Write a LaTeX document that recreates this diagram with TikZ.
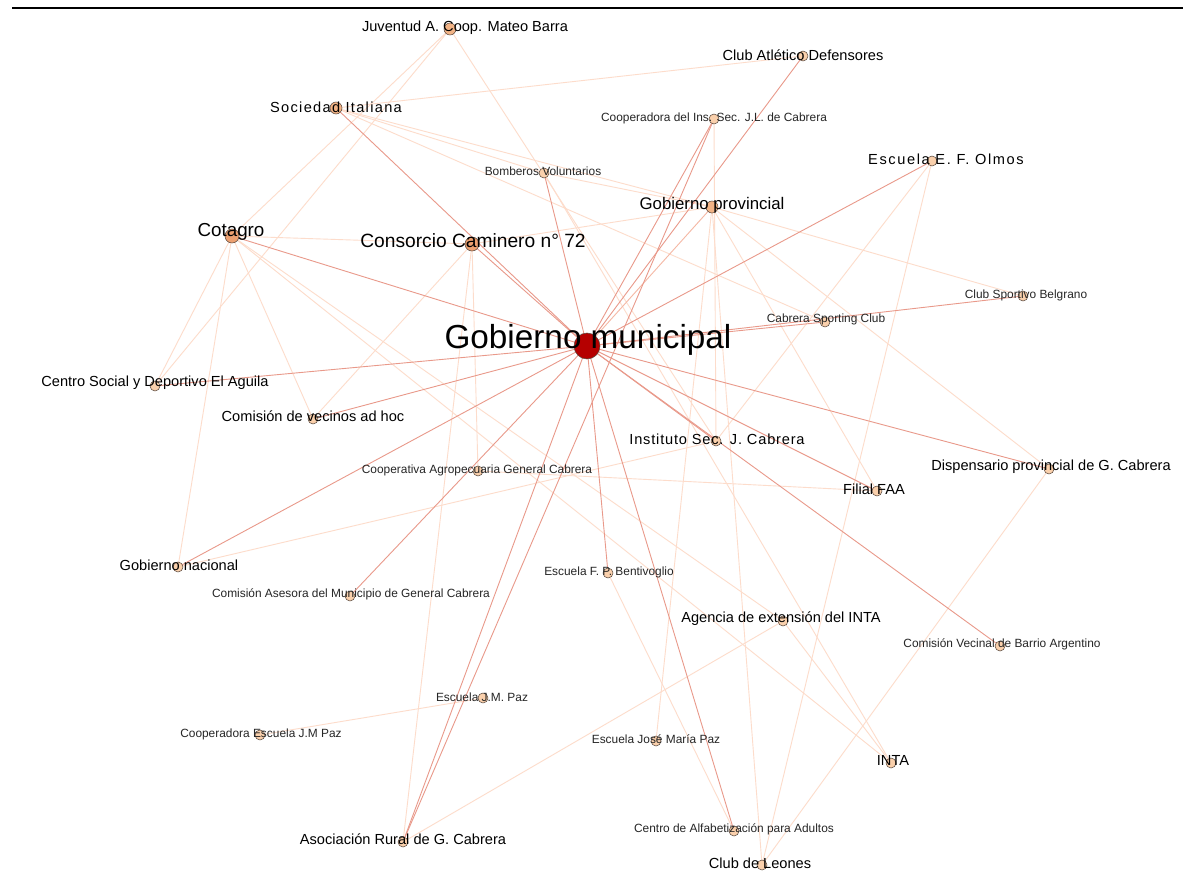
\documentclass[tikz,border=0pt]{standalone}
\usepackage{fontspec}
\setmainfont{Liberation Sans}
\definecolor{edark}{HTML}{E9998A}
\definecolor{emid}{HTML}{F5B8A4}
\definecolor{elight}{HTML}{FDDCCB}
\definecolor{nred}{HTML}{B50000}
\definecolor{norange}{HTML}{EDA070}
\definecolor{nmid}{HTML}{F2B385}
\definecolor{npeach}{HTML}{FAD0AC}
\definecolor{nborder}{HTML}{5A4A40}
\begin{document}
\begin{tikzpicture}[x=1pt,y=-1pt,
  vtx/.style={circle,draw=nborder,line width=0.55pt,fill=npeach,inner sep=0pt,minimum size=10pt},
  big/.style={vtx,fill=norange,minimum size=14pt},
  mid/.style={vtx,fill=nmid,minimum size=12pt},
  lbl/.style={inner sep=0pt,text=black,font=\fontsize{14.6}{15}\selectfont},
  sml/.style={inner sep=0pt,text=black!85,font=\fontsize{11.9}{12}\selectfont},
  dk/.style={draw=edark,line width=0.9pt},
  md/.style={draw=emid,line width=0.9pt},
  lt/.style={draw=elight,line width=0.9pt}]
\useasboundingbox (0,0) rectangle (1183,878);
\fill[white] (0,0) rectangle (1183,878);
\coordinate (L1) at (12,8);
\coordinate (L2) at (1183,8);
\draw[line width=1.5pt] (L1) -- (L2);
% positions
\coordinate (GM) at (587,346);
\coordinate (CC) at (472,244);
\coordinate (CT) at (232,236);
\coordinate (GP) at (712,207);
\coordinate (SI) at (336,108);
\coordinate (JU) at (450,29);
\coordinate (CA) at (803,56);
\coordinate (CI) at (714,119);
\coordinate (EO) at (932,161);
\coordinate (BV) at (544,173);
\coordinate (SB) at (1023,296);
\coordinate (CS) at (825,322);
\coordinate (CSD) at (155,386);
\coordinate (CV) at (313,419);
\coordinate (IS) at (716,441);
\coordinate (CO) at (478,471);
\coordinate (DP) at (1049,469);
\coordinate (FF) at (877,491);
\coordinate (GN) at (178,567);
\coordinate (EB) at (608,573);
\coordinate (CAM) at (350,596);
\coordinate (AG) at (783,621);
\coordinate (CVB) at (1000,646);
\coordinate (EJ) at (483,698);
\coordinate (CEJ) at (260,735);
\coordinate (EJMP) at (656,741);
\coordinate (INTA) at (891,763);
\coordinate (AR) at (403,842);
\coordinate (CAA) at (734,831);
\coordinate (LE) at (762,865);
% light edges
\draw[lt] (JU) -- (CT); \draw[lt] (JU) -- (CSD); \draw[lt] (JU) -- (IS);
\draw[lt] (SI) -- (CA); \draw[lt] (SI) -- (GP); \draw[lt] (SI) -- (CS); \draw[lt] (SI) -- (BV);
\draw[lt] (CT) -- (CC); \draw[lt] (CT) -- (CSD); \draw[lt] (CT) -- (GN); \draw[lt] (CT) -- (CV);
\draw[lt] (CT) -- (INTA); \draw[lt] (CT) -- (AG);
\draw[lt] (CC) -- (GP); \draw[lt] (CC) -- (CV); \draw[lt] (CC) -- (CO); \draw[lt] (CC) -- (AR);
\draw[lt] (BV) -- (GP); \draw[lt] (BV) -- (INTA);
\draw[lt] (GP) -- (SB); \draw[lt] (GP) -- (DP); \draw[lt] (GP) -- (LE); \draw[lt] (GP) -- (EJMP); \draw[lt] (GP) -- (FF);
\draw[lt] (CI) -- (IS);
\draw[lt] (EO) -- (IS); \draw[lt] (EO) -- (LE);
\draw[lt] (DP) -- (LE);
\draw[lt] (GN) -- (IS);
\draw[lt] (CO) -- (FF);
\draw[lt] (EB) -- (CAA);
\draw[lt] (AR) -- (AG);
\draw[lt] (AG) -- (INTA);
\draw[lt] (EJ) -- (CEJ);
% darker edges from Gobierno municipal
\draw[md] (GM) -- (GP);
\draw[dk] (GM) -- (SI); \draw[dk] (GM) -- (CC); \draw[dk] (GM) -- (CT); \draw[dk] (GM) -- (BV);
\draw[dk] (GM) -- (CI); \draw[dk] (GM) -- (CA); \draw[dk] (GM) -- (EO); \draw[dk] (GM) -- (CS);
\draw[dk] (GM) -- (SB); \draw[dk] (GM) -- (CSD); \draw[dk] (GM) -- (CV); \draw[dk] (GM) -- (IS);
\draw[dk] (GM) -- (FF); \draw[dk] (GM) -- (DP); \draw[dk] (GM) -- (GN); \draw[dk] (GM) -- (CAM);
\draw[dk] (GM) -- (EB); \draw[dk] (GM) -- (AR); \draw[dk] (GM) -- (CAA); \draw[dk] (GM) -- (CVB);
\draw[dk] (AR) -- (CI);
% vertices
\node[vtx,fill=nred,minimum size=26pt] (nGM) at (GM) {};
\node[big] (nCC) at (CC) {};
\node[big] (nCT) at (CT) {};
\node[mid] (nGP) at (GP) {};
\node[mid] (nSI) at (SI) {};
\node[mid] (nJU) at (JU) {};
\node[vtx] (nCA) at (CA) {};
\node[vtx] (nCI) at (CI) {};
\node[vtx] (nEO) at (EO) {};
\node[vtx] (nBV) at (BV) {};
\node[vtx] (nSB) at (SB) {};
\node[vtx] (nCS) at (CS) {};
\node[vtx] (nCSD) at (CSD) {};
\node[vtx] (nCV) at (CV) {};
\node[vtx] (nIS) at (IS) {};
\node[vtx] (nCO) at (CO) {};
\node[vtx] (nDP) at (DP) {};
\node[vtx] (nFF) at (FF) {};
\node[vtx] (nGN) at (GN) {};
\node[vtx] (nEB) at (EB) {};
\node[vtx] (nCAM) at (CAM) {};
\node[vtx] (nAG) at (AG) {};
\node[vtx] (nCVB) at (CVB) {};
\node[vtx] (nEJ) at (EJ) {};
\node[vtx] (nCEJ) at (CEJ) {};
\node[vtx] (nEJMP) at (EJMP) {};
\node[vtx] (nINTA) at (INTA) {};
\node[vtx] (nAR) at (AR) {};
\node[vtx] (nCAA) at (CAA) {};
\node[vtx] (nLE) at (LE) {};
% labels
\node[lbl,font=\fontsize{33.3}{34}\selectfont] (tGM) at (588,340) {Gobierno municipal};
\node[lbl,font=\fontsize{19.2}{20}\selectfont] (tCC) at (473,241) {Consorcio Caminero n° 72};
\node[lbl,font=\fontsize{18.8}{20}\selectfont] (tCT) at (231,232) {Cotagro};
\node[lbl,font=\fontsize{16.8}{18}\selectfont] (tGP) at (712,205) {Gobierno provincial};
\node[lbl,font=\fontsize{14.6}{15}\selectfont\addfontfeatures{LetterSpace=9}] (tSI) at (336,107) {Sociedad Italiana};
\node[lbl] (tJU) at (465,28) {Juventud A. Coop. Mateo Barra};
\node[lbl] (tCA) at (803,55) {Club Atlético Defensores};
\node[sml] (tCI) at (714,118) {Cooperadora del Ins. Sec. J.L. de Cabrera};
\node[lbl,font=\fontsize{14.6}{15}\selectfont\addfontfeatures{LetterSpace=11}] (tEO) at (946,159) {Escuela E. F. Olmos};
\node[sml] (tBV) at (543,171) {Bomberos Voluntarios};
\node[sml] (tSB) at (1026,295) {Club Sportivo Belgrano};
\node[sml] (tCS) at (826,319) {Cabrera Sporting Club};
\node[lbl] (tCSD) at (155,383) {Centro Social y Deportivo El Aguila};
\node[lbl] (tCV) at (313,416) {Comisión de vecinos ad hoc};
\node[lbl,font=\fontsize{14.6}{15}\selectfont\addfontfeatures{LetterSpace=5.5}] (tIS) at (717,439) {Instituto Sec. J. Cabrera};
\node[sml] (tCO) at (477,470) {Cooperativa Agropecuaria General Cabrera};
\node[lbl] (tDP) at (1051,467) {Dispensario provincial de G. Cabrera};
\node[lbl] (tFF) at (874,489) {Filial FAA};
\node[lbl] (tGN) at (179,565) {Gobierno nacional};
\node[sml] (tEB) at (609,572) {Escuela F. P. Bentivoglio};
\node[sml] (tCAM) at (351,594) {Comisión Asesora del Municipio de General Cabrera};
\node[lbl] (tAG) at (781,619) {Agencia de extensión del INTA};
\node[sml] (tCVB) at (1002,644) {Comisión Vecinal de Barrio Argentino};
\node[sml] (tEJ) at (482,697) {Escuela J.M. Paz};
\node[sml] (tCEJ) at (261,734) {Cooperadora Escuela J.M Paz};
\node[sml] (tEJMP) at (656,739) {Escuela José María Paz};
\node[lbl] (tINTA) at (893,760) {INTA};
\node[lbl] (tAR) at (403,839) {Asociación Rural de G. Cabrera};
\node[sml] (tCAA) at (734,829) {Centro de Alfabetización para Adultos};
\node[lbl] (tLE) at (760,863) {Club de Leones};
\end{tikzpicture}
\end{document}
